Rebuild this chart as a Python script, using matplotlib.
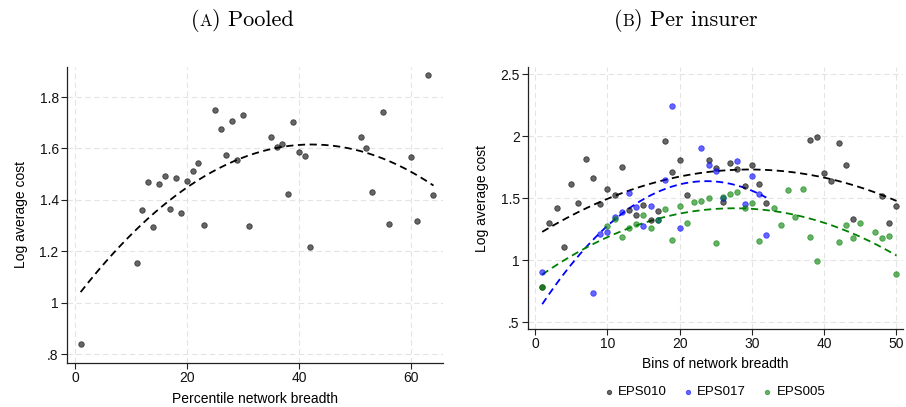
import numpy as np
import matplotlib
matplotlib.use("Agg")
from matplotlib import pyplot as plt
from matplotlib.offsetbox import TextArea, HPacker, AnchoredOffsetbox

plt.rcParams["font.family"] = ["Liberation Sans", "DejaVu Sans"]

# panel A: pooled
pooled_x = [1, 11, 12, 13, 14, 15, 16, 17, 18, 19, 20, 21, 22, 23, 25, 26, 27, 28, 29, 30,
            31, 35, 36, 37, 38, 39, 40, 41, 42, 51, 52, 53, 55, 56, 60, 61, 63, 64]
pooled_y = [0.84, 1.155, 1.36, 1.47, 1.294, 1.461, 1.493, 1.365, 1.484, 1.348, 1.474, 1.511,
            1.542, 1.302, 1.751, 1.677, 1.574, 1.707, 1.554, 1.731, 1.297, 1.643, 1.604, 1.619,
            1.421, 1.702, 1.586, 1.569, 1.217, 1.643, 1.603, 1.431, 1.743, 1.307, 1.565, 1.317,
            1.886, 1.418]

# panel B: per insurer
eps010_x = [1, 2, 3, 4, 5, 6, 7, 8, 9, 10, 11, 12, 13, 14, 15, 16, 17, 18, 19, 20, 21,
            24, 25, 26, 27, 28, 29, 30, 31, 32, 38, 39, 40, 41, 42, 43, 44, 48, 49, 50]
eps010_y = [0.788, 1.298, 1.425, 1.108, 1.613, 1.462, 1.82, 1.667, 1.452, 1.575, 1.524, 1.753,
            1.406, 1.366, 1.446, 1.323, 1.395, 1.962, 1.715, 1.812, 1.527, 1.812, 1.747, 1.473,
            1.782, 1.737, 1.599, 1.766, 1.616, 1.462, 1.968, 1.992, 1.702, 1.64, 1.944, 1.766,
            1.331, 1.519, 1.301, 1.441]

eps017_x = [1, 8, 9, 10, 11, 12, 13, 14, 15, 16, 17, 18, 19, 20, 23, 24, 25, 26, 28, 29,
            30, 31, 32]
eps017_y = [0.906, 0.739, 1.21, 1.228, 1.352, 1.392, 1.546, 1.43, 1.28, 1.441, 1.328, 1.645,
            2.245, 1.258, 1.906, 1.766, 1.718, 1.5, 1.798, 1.457, 1.68, 1.538, 1.207]

eps005_x = [1, 10, 11, 12, 13, 14, 15, 16, 17, 18, 19, 20, 21, 22, 23, 24, 25, 26, 27, 28,
            29, 30, 31, 33, 34, 35, 36, 37, 38, 39, 42, 43, 44, 45, 47, 48, 49, 50]
eps005_y = [0.788, 1.277, 1.331, 1.191, 1.258, 1.296, 1.366, 1.258, 1.325, 1.411, 1.164, 1.438,
            1.304, 1.468, 1.476, 1.503, 1.14, 1.513, 1.532, 1.548, 1.425, 1.46, 1.159, 1.425,
            1.282, 1.565, 1.349, 1.573, 1.191, 0.997, 1.145, 1.282, 1.183, 1.301, 1.226, 1.177,
            1.194, 0.887]

insurers = ["EPS010", "EPS017", "EPS005"]
insurer_colors = ["black", "blue", "green"]

a_xticks = [0, 20, 40, 60]
a_yticks = [0.8, 1.0, 1.2, 1.4, 1.6, 1.8]
a_ylabels = [".8", "1", "1.2", "1.4", "1.6", "1.8"]
b_xticks = [0, 10, 20, 30, 40, 50]
b_yticks = [0.5, 1.0, 1.5, 2.0, 2.5]
b_ylabels = [".5", "1", "1.5", "2", "2.5"]

W, H = 906, 407
fig = plt.figure(figsize=(W / 100, H / 100), dpi=100)


def px_axes(l, t, r, b):
    return fig.add_axes([l / W, 1 - b / H, (r - l) / W, (b - t) / H])


def style(ax, xticks, yticks, ylabels):
    for s in ["top", "right"]:
        ax.spines[s].set_visible(False)
    for s in ["left", "bottom"]:
        ax.spines[s].set_color("#222222")
        ax.spines[s].set_linewidth(0.9)
    ax.set_xticks(xticks)
    ax.set_yticks(yticks)
    ax.set_yticklabels(ylabels)
    ax.tick_params(direction="out", length=4, width=0.8, color="#222222",
                   labelsize=10, labelcolor="#111111", pad=2)
    ax.grid(True, color="#e4e4e4", linestyle=(0, (5, 3)), linewidth=0.8)
    ax.set_axisbelow(True)


def qfit(ax, x, y, color):
    coef = np.polyfit(x, y, 2)
    xs = np.linspace(min(x), max(x), 200)
    ax.plot(xs, np.polyval(coef, xs), color=color, linestyle=(0, (4, 2.5)), linewidth=1.3)


def dots(ax, x, y, color, label=None):
    ax.scatter(x, y, s=16, color=color, alpha=0.6, edgecolors=color, linewidths=0.6,
               label=label, zorder=3)


# (A) pooled
ax1 = px_axes(67, 67, 443, 363)
style(ax1, a_xticks, a_yticks, a_ylabels)
dots(ax1, pooled_x, pooled_y, "black")
qfit(ax1, pooled_x, pooled_y, "black")
ax1.set_xlim(-1.43, 65.7)
ax1.set_ylim(0.765, 1.917)
ax1.set_xlabel("Percentile network breadth", fontsize=10, labelpad=5)
ax1.set_ylabel("Log average cost", fontsize=10, labelpad=8)

# (B) per insurer
ax2 = px_axes(528, 67, 903, 329)
style(ax2, b_xticks, b_yticks, b_ylabels)
series = [(eps010_x, eps010_y), (eps017_x, eps017_y), (eps005_x, eps005_y)]
for (x, y), name, c in zip(series, insurers, insurer_colors):
    dots(ax2, x, y, c, label=name)
for (x, y), c in zip(series, insurer_colors):
    qfit(ax2, x, y, c)
ax2.set_xlim(-0.97, 50.9)
ax2.set_ylim(0.446, 2.559)
ax2.set_xlabel("Bins of network breadth", fontsize=10, labelpad=4)
ax2.set_ylabel("Log average cost", fontsize=10, labelpad=8)
ax2.legend(loc="center", bbox_to_anchor=(715 / W, 1 - 392 / H), bbox_transform=fig.transFigure,
           ncol=3, frameon=False, fontsize=9.5, handlelength=0.6, handletextpad=0.4,
           columnspacing=1.3, markerscale=0.8, scatterpoints=1)


def caption(letter, rest, cx):
    parts = [TextArea("(", textprops=dict(family="cmr10", size=16)),
             TextArea(letter, textprops=dict(family="cmr10", size=12)),
             TextArea(") " + rest, textprops=dict(family="cmr10", size=16))]
    box = HPacker(children=parts, align="baseline", pad=0, sep=0)
    ab = AnchoredOffsetbox(loc="center", child=box, frameon=False, pad=0, borderpad=0,
                           bbox_to_anchor=(cx / W, 1 - 20 / H), bbox_transform=fig.transFigure)
    fig.add_artist(ab)


caption("A", "Pooled", 242)
caption("B", "Per insurer", 686)

fig.savefig("out.png", dpi=100)
